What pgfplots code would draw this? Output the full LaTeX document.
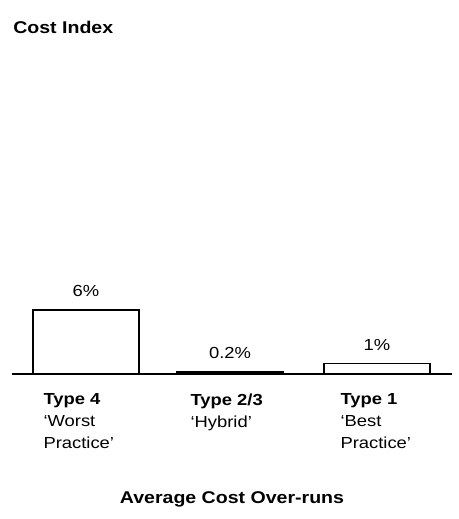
\documentclass[border=0pt]{standalone}
\usepackage{pgfplots}
\pgfplotsset{compat=1.18}
\usepackage{fontspec}
\setmainfont[FakeStretch=1.15]{Liberation Sans}

\pgfplotstableread{
x   y
86  6
230 0.2
377 1
}\overruns

\begin{document}
\begin{tikzpicture}
\path[use as bounding box] (0,0) rectangle (459bp,-519bp);
\begin{axis}[
  at={(12bp,-374bp)}, anchor=south west,
  scale only axis, width=440bp, height=334bp,
  xmin=12, xmax=452, ymin=0, ymax=31.3,
  axis x line=bottom, axis y line=none,
  x axis line style={line width=1.8pt, -},
  xtick={43,190,340},
  xticklabels={%
    {\bfseries Type 4\\\mdseries `Worst\\Practice'},
    {\bfseries Type 2/3\\\mdseries `Hybrid'},
    {\bfseries Type 1\\\mdseries `Best\\Practice'}},
  xticklabel style={anchor=north west, align=left,
    font=\fontsize{16bp}{22bp}\selectfont, yshift=-16bp, xshift=-3bp},
  major tick length=0pt,
  ytick=\empty,
  xlabel={\bfseries Average Cost Over-runs},
  xlabel style={font=\fontsize{17bp}{20bp}\selectfont, yshift=-36bp},
  ybar, bar width=106, bar shift=0pt,
  /pgf/number format/assume math mode=true,
  nodes near coords={\pgfmathprintnumber{\pgfplotspointmeta}\%},
  nodes near coords style={font=\fontsize{16bp}{18bp}\selectfont, yshift=9bp},
  clip=false,
]
\addplot[draw=black, line width=1.4pt, fill=white] table[x=x, y=y] {\overruns};
\node[anchor=base west, font=\fontsize{17bp}{20bp}\selectfont\bfseries]
  at (rel axis cs:-0.005,1.018) {Cost Index};
\end{axis}
\end{tikzpicture}
\end{document}
